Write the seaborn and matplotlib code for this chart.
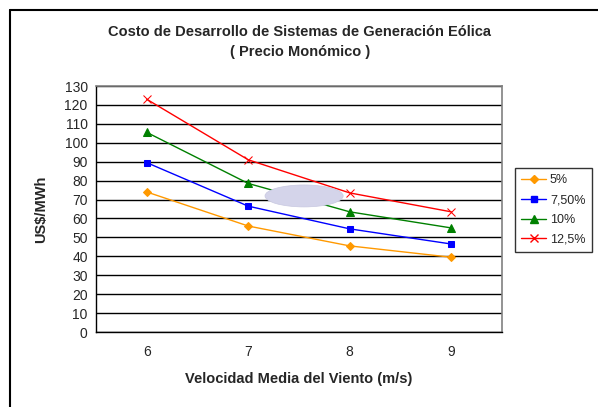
import numpy as np
import pandas as pd
import matplotlib
matplotlib.use('Agg')
import matplotlib.pyplot as plt
import seaborn as sns
from matplotlib.patches import Ellipse
from matplotlib.lines import Line2D

velocidad = [6, 7, 8, 9]
tasa_5 = [74, 56, 45.5, 39.5]
tasa_75 = [89.5, 66.5, 54.5, 46.5]
tasa_10 = [105.5, 78.5, 63.5, 55]
tasa_125 = [123, 91, 73.5, 63.5]
series = ['5%', '7,50%', '10%', '12,5%']

df = pd.DataFrame({'x': velocidad, '5%': tasa_5, '7,50%': tasa_75,
                   '10%': tasa_10, '12,5%': tasa_125})
df = df.melt(id_vars='x', var_name='serie', value_name='y')

sns.set_style('white')
plt.rcParams['font.family'] = ['Liberation Sans', 'DejaVu Sans']

colores = {'5%': '#ff9900', '7,50%': '#0000ff', '10%': '#008000', '12,5%': '#ff0000'}
marcas = {'5%': 'D', '7,50%': 's', '10%': '^', '12,5%': 'x'}
tam = {'5%': 4.5, '7,50%': 5, '10%': 6, '12,5%': 6}

fig = plt.figure(figsize=(5.98, 4.07), dpi=100)
ax = fig.add_axes([96 / 598, 75 / 407, 406 / 598, 246 / 407])

for s in series:
    sub = df[df['serie'] == s]
    sns.lineplot(data=sub, x='x', y='y', color=colores[s], marker=marcas[s],
                 markersize=tam[s], markeredgecolor=colores[s], linewidth=1,
                 ax=ax, label=s, legend=False)

ax.set_ylim(0, 130)
ax.set_yticks(range(0, 131, 10))
ax.set_xlim(5.5, 9.5)
ax.set_xticks(velocidad)
ax.set_xticks([5.5, 6.5, 7.5, 8.5, 9.5], minor=True)
ax.tick_params(axis='x', which='major', length=0, pad=9, labelsize=10)
ax.tick_params(axis='x', which='minor', length=5, width=1, color='black', direction='out')
ax.tick_params(axis='y', length=4, width=1, color='black', direction='out', labelsize=10, pad=2)
ax.yaxis.grid(True, color='black', linewidth=1)
ax.set_axisbelow(True)
for side in ['left', 'bottom']:
    ax.spines[side].set_color('black')
    ax.spines[side].set_linewidth(1)
for side in ['top', 'right']:
    ax.spines[side].set_color('#808080')
    ax.spines[side].set_linewidth(1.2)

ax.add_patch(Ellipse((7.55, 71.9), 0.77, 11.6, facecolor='#d4d4ea',
                     edgecolor='#c8c8e0', linewidth=0.5, zorder=5))

ax.set_xlabel('Velocidad Media del Viento (m/s)', fontsize=10.5, fontweight='bold', labelpad=10)
ax.set_ylabel('US$/MWh', fontsize=10.5, fontweight='bold', labelpad=12)

fig.text(300 / 598, 1 - 32 / 407, 'Costo de Desarrollo de Sistemas de Generación Eólica',
         ha='center', va='center', fontsize=10.5, fontweight='bold')
fig.text(300 / 598, 1 - 52 / 407, '( Precio Monómico )',
         ha='center', va='center', fontsize=10.5, fontweight='bold')

handles = [Line2D([], [], color=colores[s], marker=marcas[s], markersize=tam[s],
                  linewidth=1) for s in series]
leg = fig.legend(handles, series, loc='center left', bbox_to_anchor=(515 / 598, 1 - 210 / 407),
                 frameon=True, fancybox=False, fontsize=9, handlelength=2.0,
                 handletextpad=0.3, borderpad=0.5, labelspacing=0.62, borderaxespad=0)
leg.get_frame().set_edgecolor('black')
leg.get_frame().set_linewidth(1)

fig.add_artist(Line2D([10 / 598, 10 / 598], [0, 1 - 10 / 407], color='black', linewidth=1.5,
                      transform=fig.transFigure))
fig.add_artist(Line2D([10 / 598, 1], [1 - 10 / 407, 1 - 10 / 407], color='black', linewidth=1.5,
                      transform=fig.transFigure))

fig.savefig('out.png', dpi=100, facecolor='white')
